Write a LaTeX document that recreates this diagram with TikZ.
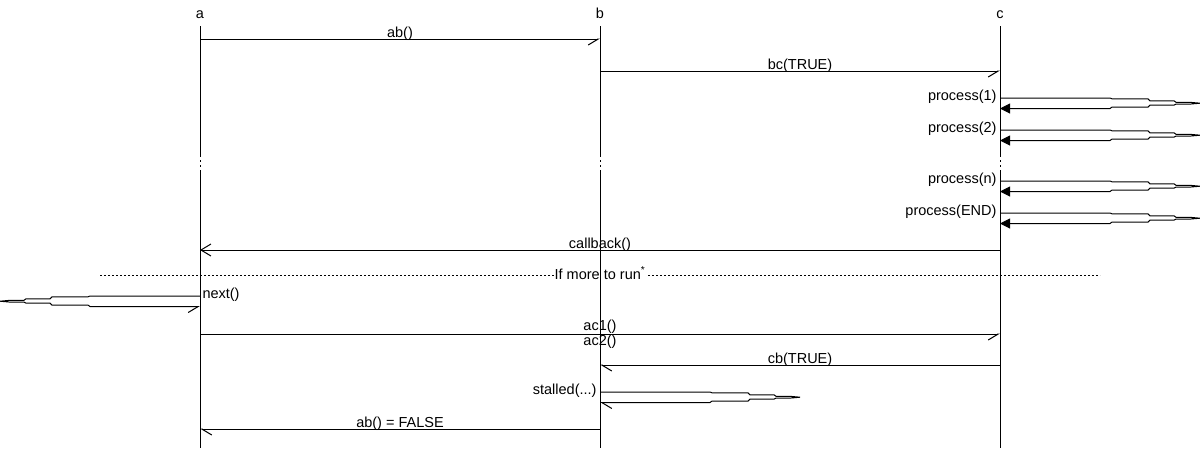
\documentclass[tikz,border=0pt]{standalone}
\usepackage{fontspec}
\setmainfont{Liberation Sans}
\usetikzlibrary{arrows.meta}

\begin{document}
\begin{tikzpicture}[x=1pt, y=-1pt, line width=1pt,
        ent/.style={font=\fontsize{14.5}{12}\selectfont, inner sep=0pt, anchor=base},
        lbl/.style={font=\fontsize{14.5}{12}\selectfont, inner sep=0pt, anchor=base},
        gap/.style={dash pattern=on 2pt off 3pt},
        divider/.style={dash pattern=on 2pt off 2pt},
        rmsg/.style={-{Straight Barb[harpoon, swap, length=10pt, width=12pt]}},
        lmsg/.style={-{Straight Barb[harpoon, length=10pt, width=12pt]}},
        ret/.style={-{Straight Barb[length=10pt, width=12pt]}},
        proc/.style={-{Triangle[length=10pt, width=10pt]}}
    ]
        \useasboundingbox (0,0) rectangle (1200,448);

        % === Entities ===
        \node[ent] (a) at (200,18) {a};
        \node[ent] (b) at (600,18) {b};
        \node[ent] (c) at (1000,18) {c};

        % Divider (drawn first, lifelines run over its label)
        \draw[divider] (100,275) -- node[lbl, fill=white, inner sep=1pt, yshift=-4pt] (more) {If more to run\textsuperscript{*}} (1100,275);

        % Lifelines with a break
        \foreach \e in {a,b,c} {
            \draw (\e |- 0,26) -- (\e |- 0,155);
            \draw[gap] (\e |- 0,155) -- (\e |- 0,172);
            \draw (\e |- 0,172) -- (\e |- 0,448);
        }

        % === Messages ===
        \draw[rmsg] (a |- 0,39) -- node[lbl, yshift=2pt] (m1) {ab()} (b |- 0,39);
        \draw[rmsg] (b |- 0,71) -- node[lbl, yshift=2pt] (m2) {bc(TRUE)} (c |- 0,71);

        % Self calls on c
        \foreach \y/\t in {98/1, 130/2, 181/n, 213/END} {
            \draw[proc] (c |- 0,\y) -- ++(110,0) -- ++(2,0.8) -- ++(36,0) -- ++(2,2) -- ++(24,0) -- ++(2,1.5) -- ++(14,0) -- ++(10,0.9)
                -- ++(-10,0.9) -- ++(-14,0) -- ++(-2,1) -- ++(-24,0) -- ++(-2,2) -- ++(-36,0) -- ++(-2,1.4) -- ++(-110,0);
            \node[lbl, anchor=base east] (p\t) at ([xshift=-3pt]c |- 0,\y+2.5) {process(\t)};
        }

        \draw[ret] (c |- 0,250) -- node[lbl, yshift=2pt] (m3) {callback()} (a |- 0,250);

        % Self call on a, to the left
        \draw[rmsg] (a |- 0,296) -- ++(-110,0) -- ++(-2,0.8) -- ++(-36,0) -- ++(-2,2) -- ++(-24,0) -- ++(-2,1.5) -- ++(-14,0) -- ++(-10,0.9)
            -- ++(10,0.9) -- ++(14,0) -- ++(2,1) -- ++(24,0) -- ++(2,2) -- ++(36,0) -- ++(2,1.4) -- ++(110,0);
        \node[lbl, anchor=base west] (nxt) at ([xshift=2pt]a |- 0,298.5) {next()};

        \draw[rmsg] (a |- 0,334) -- node[lbl, anchor=center, align=center] (m4) {ac1()\\ac2()} (c |- 0,334);
        \draw[lmsg] (c |- 0,365) -- node[lbl, yshift=2pt] (m5) {cb(TRUE)} (b |- 0,365);

        % Self call on b
        \draw[lmsg] (b |- 0,392) -- ++(110,0) -- ++(2,0.8) -- ++(36,0) -- ++(2,2) -- ++(24,0) -- ++(2,1.5) -- ++(14,0) -- ++(10,0.9)
            -- ++(-10,0.9) -- ++(-14,0) -- ++(-2,1) -- ++(-24,0) -- ++(-2,2) -- ++(-36,0) -- ++(-2,1.4) -- ++(-110,0);
        \node[lbl, anchor=base east] (stl) at ([xshift=-3pt]b |- 0,394.5) {stalled(...)};

        \draw[lmsg] (b |- 0,429) -- node[lbl, yshift=2pt] (m6) {ab() = FALSE} (a |- 0,429);

    \end{tikzpicture}
\end{document}
